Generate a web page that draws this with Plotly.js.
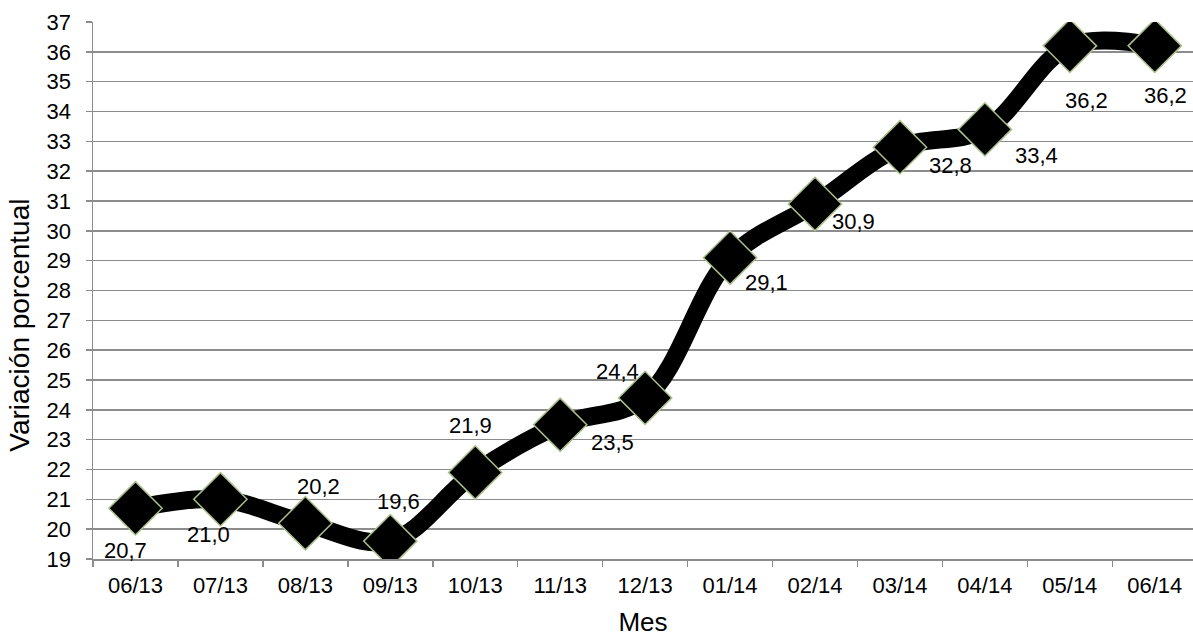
<!DOCTYPE html>
<html>
<head>
<meta charset="utf-8">
<script src="https://cdn.plot.ly/plotly-3.0.1.min.js"></script>
<style>html,body{margin:0;padding:0;background:#fff;}#chart{width:1193px;height:637px;}</style>
</head>
<body>
<div id="chart"></div>
<script>
const months = ["06/13","07/13","08/13","09/13","10/13","11/13","12/13","01/14","02/14","03/14","04/14","05/14","06/14"];
const values = [20.7, 21.0, 20.2, 19.6, 21.9, 23.5, 24.4, 29.1, 30.9, 32.8, 33.4, 36.2, 36.2];
const yTicks = [19,20,21,22,23,24,25,26,27,28,29,30,31,32,33,34,35,36,37];
const xTitle = 'Mes';
const yTitle = 'Variación porcentual';

// label offsets (pixels) relative to each point
const labelDx = [-10, -12, 13, 8, -5, 52, -28, 36, 38, 51, 52, 17, 11];
const labelDy = [-42, -35, 37, 40, 47, -18, 26, -25, -18, -18, -26, -55, -50];

const fmt = v => v.toFixed(1).replace('.', ',');
const FONT = 'Liberation Sans, Arial, sans-serif';

const trace = {
  x: months,
  y: values,
  type: 'scatter',
  mode: 'lines+markers',
  line: {color: '#000000', width: 18, shape: 'spline', smoothing: 1},
  marker: {symbol: 'diamond', size: 41, color: '#000000', line: {color: '#a9c08c', width: 1.5}},
  hoverinfo: 'skip'
};

const annotations = values.map((v, i) => ({
  x: months[i], y: v, xref: 'x', yref: 'y',
  text: fmt(v), showarrow: false,
  xshift: labelDx[i], yshift: labelDy[i],
  font: {family: FONT, size: 22, color: '#000'}
}));

annotations.push({
  xref: 'paper', yref: 'paper', x: -0.067, y: 0.435,
  xanchor: 'center', yanchor: 'middle',
  text: yTitle, textangle: -90, showarrow: false,
  font: {family: FONT, size: 28, color: '#000'}
});

const layout = {
  width: 1193, height: 637,
  margin: {l: 93, r: 0, t: 22, b: 78},
  paper_bgcolor: '#ffffff', plot_bgcolor: '#ffffff',
  showlegend: false,
  font: {family: FONT, size: 22, color: '#000'},
  xaxis: {
    type: 'category',
    range: [-0.5, 12.45],
    tickson: 'boundaries',
    ticks: 'outside', ticklen: 6, tickcolor: '#8c8c8c', tickwidth: 1.5,
    ticklabelstandoff: 6,
    showgrid: false, zeroline: false,
    showline: true, linecolor: '#8c8c8c', linewidth: 1.5,
    tickfont: {size: 22},
    title: {text: xTitle, font: {size: 26}, standoff: 22}
  },
  yaxis: {
    range: [19, 37],
    tickvals: yTicks,
    ticktext: yTicks.map(String),
    ticks: 'outside', ticklen: 6, tickcolor: '#8c8c8c', tickwidth: 1.5,
    ticklabelstandoff: 10,
    showgrid: true, gridcolor: '#8c8c8c', gridwidth: 1.5,
    zeroline: false,
    showline: true, linecolor: '#8c8c8c', linewidth: 1.5,
    tickfont: {size: 22}
  },
  annotations: annotations
};

Plotly.newPlot('chart', [trace], layout, {staticPlot: true, displayModeBar: false});
</script>
</body>
</html>
